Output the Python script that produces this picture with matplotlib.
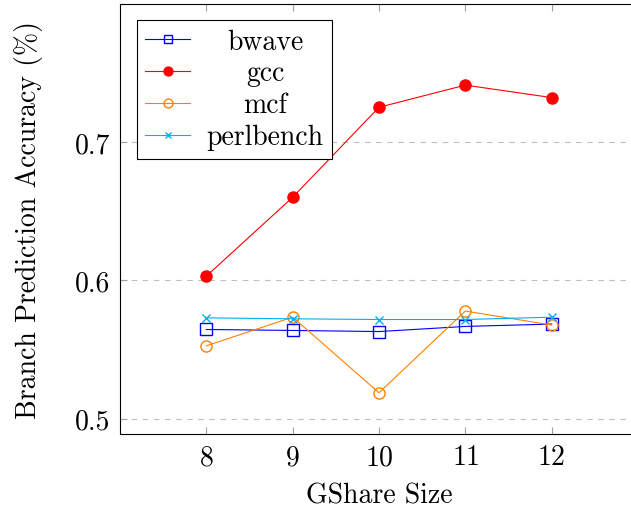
import matplotlib
matplotlib.use("Agg")
import matplotlib.pyplot as plt

# GShare table size vs branch prediction accuracy
gshare_size = [8, 9, 10, 11, 12]
bwave = [0.5645, 0.5638, 0.5630, 0.5667, 0.5684]
gcc = [0.603, 0.660, 0.725, 0.741, 0.732]
mcf = [0.5527, 0.5734, 0.5188, 0.5778, 0.5677]
perlbench = [0.5729, 0.5722, 0.5717, 0.5717, 0.5734]

plt.rcParams["font.family"] = "serif"
plt.rcParams["font.serif"] = ["cmr10"]
plt.rcParams["mathtext.fontset"] = "cm"
plt.rcParams["axes.formatter.use_mathtext"] = True

fs = 20
fig = plt.figure(figsize=(6.31, 5.10), dpi=100)
ax = fig.add_axes([120 / 631, (510 - 435) / 510, (638 - 120) / 631, (435 - 5) / 510])

lw = 0.8
ax.plot(gshare_size, bwave, color="#0000ff", lw=lw, marker="s", ms=8,
        mfc="none", mec="#0000ff", mew=1.0, label="bwave")
ax.plot(gshare_size, gcc, color="#ff0000", lw=lw, marker="o", ms=8,
        mfc="#ff0000", mec="#ff0000", label="gcc")
ax.plot(gshare_size, mcf, color="#ff8000", lw=lw, marker="o", ms=8,
        mfc="none", mec="#ff8000", mew=1.0, label="mcf")
ax.plot(gshare_size, perlbench, color="#00b0f0", lw=lw, marker="x", ms=6,
        mew=1.0, label="perlbench")

ax.set_xlim(7, 13)
ax.set_ylim(0.489, 0.7996)
ax.set_xticks(gshare_size)
ax.set_yticks([0.5, 0.6, 0.7])
ax.set_yticklabels(["0.5", "0.6", "0.7"])
ax.tick_params(direction="in", length=5, color="#a0a0a0", width=0.8,
               top=True, right=True, labelsize=fs, pad=7)
ax.yaxis.grid(True, linestyle=(0, (5, 5)), color="#c0c0c0", lw=0.8)
ax.set_axisbelow(True)
for s in ax.spines.values():
    s.set_linewidth(0.8)

ax.set_xlabel("GShare Size", fontsize=fs, labelpad=9)
ax.set_ylabel("Branch Prediction Accuracy (%)", fontsize=fs, labelpad=23)

leg = ax.legend(loc="upper left", bbox_to_anchor=(0.033, 0.963), fontsize=fs,
                frameon=True, fancybox=False, edgecolor="black", framealpha=1,
                handlelength=1.6, markerscale=0.8, handletextpad=0.6,
                borderpad=0.3, labelspacing=0.2, borderaxespad=0)
leg.get_frame().set_linewidth(0.8)

# centre the legend entries like pgfplots does
fig.canvas.draw()
renderer = fig.canvas.get_renderer()
widths = [t.get_window_extent(renderer).width for t in leg.get_texts()]
for t, w in zip(leg.get_texts(), widths):
    t.set_position(((max(widths) - w) / 2, 0))

fig.savefig("out.png", dpi=100)
